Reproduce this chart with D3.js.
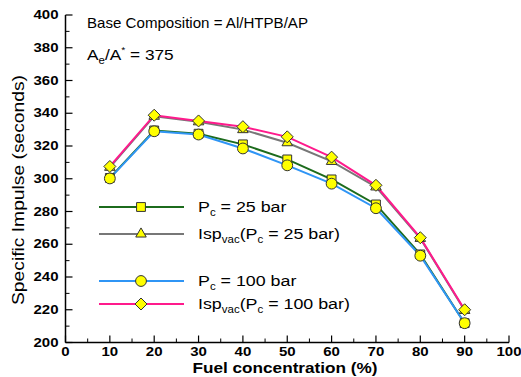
<!doctype html>
<html>
<head>
  <meta charset="utf-8">
  <title>Specific Impulse vs Fuel Concentration</title>
  <script src="https://d3js.org/d3.v7.min.js"></script>
  <style>
  body { margin: 0; background: #fff; }
  svg text { font-family: "Liberation Sans", Arial, sans-serif; }
  </style>
</head>
<body>
  <div id="vis"></div>
  <script>
  var width = 521;
  var height = 377;

  // data
  var fuel = [10, 20, 30, 40, 50, 60, 70, 80, 90];
  var pc25 = [300.5, 329.5, 327.5, 321, 311.8, 299.6, 284.3, 253.8, 211.8];
  var ispVac25 = [307, 338.2, 334.8, 330, 322, 310.6, 295, 263.6, 219.6];
  var pc100 = [300.2, 329, 327, 318.5, 308.2, 297, 282, 253, 211.8];
  var ispVac100 = [307.5, 338.8, 335.3, 331.8, 325.6, 313.2, 296, 264, 220];
  var xTicks = [0, 10, 20, 30, 40, 50, 60, 70, 80, 90, 100];
  var yTicks = [200, 220, 240, 260, 280, 300, 320, 340, 360, 380, 400];

  // square rotated by 45 degrees, as in the original plot
  var diamond = {
    draw: function(ctx, size){
      var r = Math.sqrt(size / 2);
      ctx.moveTo(0, -r); ctx.lineTo(r, 0); ctx.lineTo(0, r); ctx.lineTo(-r, 0); ctx.closePath();
    }
  };

  var series = [
    { values: pc25, color: '#1c6b1c', symbol: d3.symbolSquare, size: 78, legend: 0 },
    { values: ispVac25, color: '#777777', symbol: d3.symbolTriangle, size: 48, legend: 1 },
    { values: pc100, color: '#2f95f5', symbol: d3.symbolCircle, size: 92, legend: 2 },
    { values: ispVac100, color: '#ff1a8c', symbol: diamond, size: 72, legend: 3 }
  ];

  var x = d3.scaleLinear().domain([0, 100]).range([65.5, 509]);
  var y = d3.scaleLinear().domain([200, 400]).range([342.5, 15]);

  var svg = d3.select('#vis').append('svg')
    .attr('width', width)
    .attr('height', height);

  // text in the original is a bit wider than Arial
  function wideText(g, tx, ty, sx){
    return g.append('text').attr('transform', 'translate(' + tx + ',' + ty + ') scale(' + sx + ',1)');
  }

  // axes: left and bottom only, ticks pointing inward
  var xAxis = svg.append('g').attr('transform', 'translate(0,' + y(200) + ')');
  xAxis.append('line').attr('x1', x(0)).attr('x2', x(100)).attr('stroke', '#000').attr('stroke-width', 1.5);
  xAxis.selectAll('.minor').data(d3.range(5, 100, 10)).enter().append('line')
    .attr('x1', function(d){ return x(d); }).attr('x2', function(d){ return x(d); })
    .attr('y1', 0).attr('y2', -4).attr('stroke', '#000');
  xAxis.selectAll('.major').data(xTicks).enter().append('line')
    .attr('x1', function(d){ return x(d); }).attr('x2', function(d){ return x(d); })
    .attr('y1', 0).attr('y2', -7).attr('stroke', '#000').attr('stroke-width', 1.2);
  xTicks.forEach(function(d){
    wideText(xAxis, x(d), 13.5, 1.2)
      .attr('text-anchor', 'middle').attr('font-size', 12.5).attr('font-weight', 'bold')
      .text(d);
  });

  var yAxis = svg.append('g').attr('transform', 'translate(' + x(0) + ',0)');
  yAxis.append('line').attr('y1', y(200)).attr('y2', y(400)).attr('stroke', '#000').attr('stroke-width', 1.5);
  yAxis.selectAll('.minor').data(d3.range(210, 400, 20)).enter().append('line')
    .attr('y1', function(d){ return y(d); }).attr('y2', function(d){ return y(d); })
    .attr('x1', 0).attr('x2', 4).attr('stroke', '#000');
  yAxis.selectAll('.major').data(yTicks).enter().append('line')
    .attr('y1', function(d){ return y(d); }).attr('y2', function(d){ return y(d); })
    .attr('x1', 0).attr('x2', 7).attr('stroke', '#000').attr('stroke-width', 1.2);
  yTicks.forEach(function(d){
    wideText(yAxis, -7, y(d) + 4, 1.2)
      .attr('text-anchor', 'end').attr('font-size', 12.5).attr('font-weight', 'bold')
      .text(d);
  });

  svg.append('text')
    .attr('x', 192.5).attr('y', 372.5)
    .attr('font-size', 14).attr('font-weight', 'bold')
    .attr('textLength', 185).attr('lengthAdjust', 'spacingAndGlyphs')
    .text('Fuel concentration (%)');

  svg.append('text')
    .attr('transform', 'translate(24,190) rotate(-90)')
    .attr('text-anchor', 'middle').attr('font-size', 16)
    .attr('textLength', 230).attr('lengthAdjust', 'spacingAndGlyphs')
    .text('Specific Impulse (seconds)');

  // annotations
  svg.append('text').attr('x', 87).attr('y', 27.5).attr('font-size', 15)
    .attr('textLength', 221).attr('lengthAdjust', 'spacingAndGlyphs')
    .text('Base Composition = Al/HTPB/AP');
  var ae = wideText(svg, 87, 59.5, 1.15).attr('font-size', 15);
  ae.append('tspan').text('A');
  ae.append('tspan').attr('font-size', 10).attr('dy', 4).text('e');
  ae.append('tspan').attr('dy', -4).text('/A');
  ae.append('tspan').attr('font-size', 9).attr('dy', -7).text('*');
  ae.append('tspan').attr('dy', 7).text(' = 375');

  var line = d3.line()
    .x(function(d, i){ return x(fuel[i]); })
    .y(function(d){ return y(d); });

  series.forEach(function(s){
    svg.append('path').datum(s.values)
      .attr('fill', 'none').attr('stroke', s.color).attr('stroke-width', 2)
      .attr('d', line);
  });
  series.forEach(function(s){
    svg.selectAll(null).data(s.values).enter().append('path')
      .attr('d', d3.symbol().type(s.symbol).size(s.size))
      .attr('transform', function(d, i){ return 'translate(' + x(fuel[i]) + ',' + y(d) + ')'; })
      .attr('fill', '#ffff00').attr('stroke', '#333').attr('stroke-width', 1);
  });

  // legend
  var legendY = [207, 234, 281, 304];
  var legend = svg.append('g');
  series.forEach(function(s){
    var ly = legendY[s.legend];
    legend.append('line').attr('x1', 99).attr('x2', 184).attr('y1', ly).attr('y2', ly)
      .attr('stroke', s.color).attr('stroke-width', 2);
    legend.append('path')
      .attr('d', d3.symbol().type(s.symbol).size(s.size))
      .attr('transform', 'translate(141,' + ly + ')')
      .attr('fill', '#ffff00').attr('stroke', '#333').attr('stroke-width', 1);
  });

  function legendText(ly, isp, pressure){
    var t = wideText(legend, 198, ly + 5, 1.15).attr('font-size', 15.5);
    if (isp) {
      t.append('tspan').text('Isp');
      t.append('tspan').attr('font-size', 10).attr('dy', 4).text('vac');
      t.append('tspan').attr('dy', -4).text('(P');
      t.append('tspan').attr('font-size', 10).attr('dy', 4).text('c');
      t.append('tspan').attr('dy', -4).text(' = ' + pressure + ' bar)');
    } else {
      t.append('tspan').text('P');
      t.append('tspan').attr('font-size', 10).attr('dy', 4).text('c');
      t.append('tspan').attr('dy', -4).text(' = ' + pressure + ' bar');
    }
  }
  legendText(legendY[0], false, 25);
  legendText(legendY[1], true, 25);
  legendText(legendY[2], false, 100);
  legendText(legendY[3], true, 100);
  </script>
</body>
</html>
